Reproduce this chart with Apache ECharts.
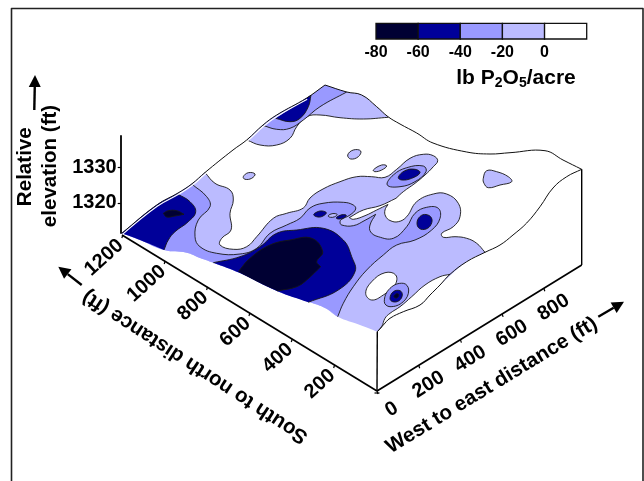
<!DOCTYPE html>
<html><head><meta charset="utf-8">
<style>html,body{margin:0;padding:0;background:#fff}#c{width:644px;height:481px}</style>
<script src="https://cdn.jsdelivr.net/npm/echarts@6/dist/echarts.min.js"></script>
</head><body><div id="c"></div>
<script>
// Colour classes, lb P2O5/acre
const classBreaks = [-80,-60,-40,-20,0,20];
const classColors = ['#000033','#000099','#9999ff','#bbbbff','#ffffff'];
const DARKEST=0, DARK=1, MID=2, LIGHT=3, WHITE=4;

// Block outline (picture-plane units); a third element 1 marks a sharp corner
const ridge = [[121.7,233.3,1],[156.7,205],[178,193],[191.7,184],[205,172.5],[233,150],[246.7,140],[263,125],[276.7,115],[306.7,98],[325,85,1],[346.7,92],[361.7,95],[376.7,106.7],[388,116.7],[400,124],[416.7,133],[433,143],[466.7,152],[490,154],[510,152.7],[545,150.7],[563,160],[581.7,169.3,1]];
const rightEdge = [[581.7,169.3,1],[566.7,176.7],[553,188],[540,206.7],[526.7,223],[513,235],[500,245],[485,252.3],[466.7,261.7],[450,274.3],[440,285],[430,295],[420,305],[403.3,311.7],[390,318.3],[383.3,325],[377.3,331.7,1]];

// Contour regions: contour = drawn line, edge = rest of the filled outline along the block edge
const lightTopContour = [[388.3,117.3,1],[363.3,119],[340,117.7],[320,115],[306.7,116.7],[296.7,126.7],[290,138.3],[276.7,145],[260,145],[247,140,1]];
const lightTopEdge = [[263,125],[276.7,115],[306.7,98],[325,85,1],[346.7,92],[361.7,95],[376.7,106.7]];
const midTopContour = [[346.7,92,1],[320,106.7],[303.3,120],[290,128.3],[276.7,129.3],[263.3,125.5,1]];
const midTopEdge = [[276.7,115],[306.7,98],[325,85,1]];
const darkTopContour = [[311,95,1],[308.3,106.7],[300,118.3],[290,121.7],[275.7,118.3,1]];
const darkTopEdge = [[286.7,111],[300,102.5]];

const lightMainContour = [[485,252.3,1],[476.7,243.3],[466.7,238.3],[455,236.7],[443.3,237.3],[441.7,233.3],[453.3,226.7],[460,216.7],[458.3,203.3],[446.7,194],[433.3,194],[416.7,201.7],[406.7,216.7],[398.3,221.7],[390,220.5],[385.5,216],[385,210],[388,204.5,1],[376.7,210],[365,215.7],[353.3,219.3],[349.3,217.6,1],[363.3,210],[380,205.7],[396,198.3,1],[403.3,191.7],[415,183.3],[425,175],[433.3,166.7],[437.7,160.7],[433.3,155.7],[423.3,154.3],[410,158.3],[396.7,169.3],[385,177.3],[371.7,176.7],[356.7,176.7],[340,181.7],[323,189],[310,198],[303.3,208],[286.7,213.3],[273.3,218.3],[256.7,236.7],[246.7,246.7],[233.3,249.3],[220,245],[221.7,238.3],[231,230],[230,213.3],[233.3,200],[230,190],[215,183.3],[205,172.5,1]];
const lightMainEdge = [[191.7,184],[178,193],[156.7,205],[121.7,233.3,1],[140,240],[164,250],[186.7,252.7],[200,258],[213.3,262.7],[240,273],[277,291],[310,302.3],[325,308],[337.7,316.7],[360,325],[377.3,331.7,1],[390,318.3],[403.3,311.7],[420,305],[430,295],[440,285],[466.7,261.7]];
const whitePatchContour = [[450,274.3,1],[440,276.7],[425,285],[411.7,296.7],[400,306.7],[390,313.3],[385,318.3],[381.7,326.7],[377.3,331.7,1]];
const whitePatchEdge = [[383.3,325],[390,318.3],[403.3,311.7],[420,305],[430,295],[440,285]];
const whiteIsland = [[365.7,293.3],[371.7,281.7],[385,272.7],[395.7,275],[395,285],[383.3,295],[371.7,300]];

const midMainContour = [[191.7,184,1],[206.7,196.7],[210,206.7],[198.3,220],[195,236.7],[200,246.7],[216.7,253.3],[240,254],[256.7,248.3],[270,233.3],[286.7,225],[300,218.3],[310,208],[323,203.3],[343.3,202.3],[353.3,205],[355.7,209],[350,215],[341.7,219.3],[340,222],[341.7,225],[353.3,225.7],[365,220.3],[375.7,214.3,1],[370,225],[370.7,232],[378.3,236.7],[393.3,238.3],[406.7,226.7],[415,213.3],[426.7,207.3],[438.3,208.3],[440,218.3],[431.7,230],[415,240],[396.7,245],[383.3,255],[366.7,270],[353.3,286.7],[343.3,303.3],[337.7,316.7,1]];
const midMainEdge = [[325,308],[310,302.3],[277,291],[240,273],[213.3,262.7],[200,258],[186.7,252.7],[164,250],[140,240],[121.7,233.3,1],[156.7,205],[178,193]];
const darkLeftContour = [[177.7,194,1],[190,201.7],[195.7,211.7],[188.3,221.7],[175,231.7],[168.3,240],[164,250,1]];
const darkLeftEdge = [[140,240],[121.7,233.3,1],[156.7,205]];
const darkestLeft = [[163.3,213.3,1],[168.3,210.7],[176.7,210.7],[184,214.3,1],[175,216],[166.7,217]];
const darkCentralContour = [[213.3,262.7,1],[240,256.7],[260,246.7],[276.7,233.3],[296.7,230],[323.3,228.3],[343.3,240],[351.7,256.7],[355,271.7],[338.3,290],[308.3,302.3,1]];
const darkCentralEdge = [[277,291],[240,273]];
const darkestCentralContour = [[238.3,271.7,1],[250,258.3],[270,245],[290,240],[311.7,238.3],[322.7,251.7],[316.7,261.7],[320.7,266.7,1],[306.7,280],[296.7,286.7],[277.3,291,1]];
const darkestCentralEdge = [[260,283]];

// Closed islands
const spotFrontMid = [[384.3,301.7],[390,288.3],[403.3,283.3],[408.7,290],[403.3,301.7],[390,306.7]];
const spotFrontDark = [[390,298.3],[393.3,291.7],[400,290.7],[402.3,295],[399,300.7],[392.7,301.7]];
const spotFrontCore = [[394,296.5],[396,294],[398.3,294],[398.3,296.5],[396,298]];
const spotLobeDark = [[417,223],[420,216.5],[426,214.5],[431.5,218],[431,224.5],[426,229],[419.5,228.5]];
const spotUpperMid = [[387.3,185],[393.3,175],[406.7,167.7],[423.3,166],[426,171.7],[415,181.7],[400,186.7]];
const spotUpperDark = [[398.3,177.3],[405,170.7],[415,169.3],[420,172.7],[411.7,178.3],[401.7,180]];
const isletA = [[243.3,176.7],[248.3,172.7],[255,174],[251.7,178.3],[245,179.3]];
const isletB = [[347.7,155],[353.3,150],[360.7,151],[358.3,156.7],[350.7,159]];
const isletC = [[373.3,170],[381.7,165],[386.7,166],[381.7,170],[375,171.7]];
const isletD = [[483.3,178.3],[486.7,170.7],[496.7,171.7],[508.3,176.7],[511.7,181.7],[500,185],[488.3,187.7],[484,183.3]];
const dotA = [[313.7,214.8],[317,212],[322,211],[326.3,212.8],[323,216],[318,217]];
const dotB = [[328.2,216],[331,214],[335,213.6],[337.2,214.6],[334.5,216.8],[330.5,217.3]];
const dotC = [[336.3,218],[339,215.8],[343.5,214.6],[346.3,215.4],[343.5,218],[339,219]];

// paint order: [colour class, contour, edge or null (null = closed island)]
const regions = [
  [LIGHT,lightTopContour,lightTopEdge],[MID,midTopContour,midTopEdge],[DARK,darkTopContour,darkTopEdge],
  [LIGHT,lightMainContour,lightMainEdge],[WHITE,whitePatchContour,whitePatchEdge],[WHITE,whiteIsland,null],
  [MID,midMainContour,midMainEdge],[DARK,darkLeftContour,darkLeftEdge],[DARKEST,darkestLeft,null],
  [DARK,darkCentralContour,darkCentralEdge],[DARKEST,darkestCentralContour,darkestCentralEdge],
  [MID,spotFrontMid,null],[DARK,spotFrontDark,null],[DARKEST,spotFrontCore,null],
  [DARK,spotLobeDark,null],[MID,spotUpperMid,null],[DARK,spotUpperDark,null],
  [LIGHT,isletA,null],[LIGHT,isletB,null],[LIGHT,isletC,null],[LIGHT,isletD,null],
  [DARK,dotA,null],[LIGHT,dotB,null],[DARK,dotC,null]
];

// Oblique axes
const eastTicks = [0,200,400,600,800];
const northTicks = [200,400,600,800,1000,1200];
const corner = [377,391];
const eastPerFoot = [0.2085,-0.1285];
const northPerFoot = [-0.2118,-0.1300];
const eastEnd = [581.7,265];
const northEnd = [122,235];
const boxLines = [[[377.3,331.7],[377,391]],[[581.7,169.3],[581.7,265]]];
const elevationTicks = [1320,1330];

const titles = ['West to east distance (ft)','South to north distance (ft)','Relative','elevation (ft)'];
const titleX = [491.7,195,25.5,50.5];
const titleY = [385.5,366.7,166.7,166];
const titleAngle = [31.4,147,90,90];
// arrows: shaft start, tip
const arrows = [[[34.3,110],[35,75]],[[598.3,316.7],[624,301.7]],[[81.7,285],[58.3,266.7]]];
const frame = [[11.5,481],[11.5,8.5],[643,8.5],[643,481]];

const FONT = '"Liberation Sans", Arial, sans-serif';
const rad = d => d*Math.PI/180;
const expand = pts => pts.flatMap(p => p[2] ? [p,p] : [p]);

function renderRegion(params, api){
  const r = regions[api.value(0)];
  const toPx = pts => expand(pts).map(p => api.coord([p[0],p[1]]));
  const fill = classColors[r[0]];
  const line = {stroke:'#161616',lineWidth:0.9,lineJoin:'round'};
  if(!r[2]) return {type:'polygon',shape:{points:toPx(r[1]),smooth:0.42},style:Object.assign({fill},line)};
  return {type:'group',children:[
    {type:'polygon',shape:{points:toPx(r[1].concat(r[2])),smooth:0.42},style:{fill}},
    {type:'polyline',shape:{points:toPx(r[1]),smooth:0.42},style:Object.assign({fill:null},line)}
  ]};
}
function renderBlock(params, api){
  const c = p => api.coord([p[0],p[1]]);
  const line = (pts,w,col,sm) => ({type:'polyline',shape:{points:expand(pts).map(c),smooth:sm||0},style:{fill:null,stroke:col||'#000',lineWidth:w,lineJoin:'round'}});
  const kids = [];
  const halo = ridge.slice(0,10).map(p => [p[0]+0.5,p[1]+1.3]);
  kids.push(line(halo,1.2,'#fff',0.42));
  kids.push(line(ridge,1,'#111',0.42));
  kids.push(line(rightEdge,1,'#111',0.42));
  boxLines.forEach(b => kids.push(line(b,1.4)));
  kids.push(line([corner,eastEnd],1.7));
  kids.push(line([corner,northEnd],1.7));
  eastTicks.forEach(t => {
    const p=[corner[0]+t*eastPerFoot[0],corner[1]+t*eastPerFoot[1]];
    kids.push(line([p,[p[0]+1,p[1]+3]],1.2));
    const a=c([p[0]+(t?24:19.5),p[1]+(t?10.5:15.5)]);
    kids.push({type:'text',x:a[0],y:a[1],rotation:rad(32),style:{text:String(t),fontSize:20,fontWeight:'bold',fontFamily:FONT,fill:'#000',align:'right',verticalAlign:'middle'}});
  });
  kids.push(line([[corner[0]-2.5,corner[1]+2],[corner[0]+2.5,corner[1]+2]],1.2));
  northTicks.forEach(t => {
    const p=[corner[0]+t*northPerFoot[0],corner[1]+t*northPerFoot[1]];
    kids.push(line([p,[p[0]-1,p[1]+3]],1.2));
    const a=c([p[0]-2.2,p[1]+7.7]);
    kids.push({type:'text',x:a[0],y:a[1],rotation:rad(42),style:{text:String(t),fontSize:20,fontWeight:'bold',fontFamily:FONT,fill:'#000',align:'right',verticalAlign:'middle'}});
  });
  titles.forEach((s,i) => {
    const a=c([titleX[i],titleY[i]]);
    kids.push({type:'text',x:a[0],y:a[1],rotation:rad(titleAngle[i]),style:{text:s,fontSize:20.6,fontWeight:'bold',fontFamily:FONT,fill:'#000',align:'center',verticalAlign:'middle'}});
  });
  arrows.forEach(ar => {
    const s=ar[0],t=ar[1],dx=t[0]-s[0],dy=t[1]-s[1],L=Math.hypot(dx,dy),ux=dx/L,uy=dy/L;
    const b=[t[0]-ux*12,t[1]-uy*12];
    kids.push(line([s,b],2.4));
    kids.push({type:'polygon',shape:{points:[t,[b[0]-uy*6,b[1]+ux*6],[b[0]+uy*6,b[1]-ux*6]].map(c)},style:{fill:'#000'}});
  });
  kids.push(line(frame,1.6,'#222'));
  const u=c([516,78.5]);
  kids.push({type:'text',x:u[0],y:u[1],style:{text:'{a|lb P}{s|2}{a|O}{s|5}{a|/acre}',align:'center',verticalAlign:'middle',
    rich:{a:{fontSize:21,fontWeight:'bold',fontFamily:FONT,fill:'#000',lineHeight:24},
          s:{fontSize:14,fontWeight:'bold',fontFamily:FONT,fill:'#000',lineHeight:24,verticalAlign:'bottom',padding:[6,0,0,0]}}}});
  return {type:'group',children:kids};
}
function renderLegendCell(params, api){
  const a=api.coord([api.value(0),0]), b=api.coord([api.value(1),1]);
  return {type:'rect',shape:{x:a[0],y:b[1],width:b[0]-a[0],height:a[1]-b[1]},style:{fill:classColors[params.dataIndex],stroke:'#111',lineWidth:1.3}};
}

const hidden = {show:false};
const chart = echarts.init(document.getElementById('c'),null,{renderer:'canvas'});
chart.setOption({
  animation:false,
  backgroundColor:'#fff',
  grid:[
    {left:0,top:0,width:644,height:481},
    {left:376,top:23.3,width:210.7,height:15.7},
    {left:120.7,top:136,width:10,height:97}
  ],
  xAxis:[
    {gridIndex:0,type:'value',min:0,max:644,show:false},
    {gridIndex:1,type:'value',min:-80,max:20,position:'bottom',axisLine:hidden,axisTick:hidden,splitLine:hidden,
      axisLabel:{customValues:[-80,-60,-40,-20,0],fontSize:16,fontWeight:'bold',fontFamily:FONT,color:'#000',margin:6}},
    {gridIndex:2,type:'value',min:0,max:1,show:false}
  ],
  yAxis:[
    {gridIndex:0,type:'value',min:0,max:481,inverse:true,show:false},
    {gridIndex:1,type:'value',min:0,max:1,show:false},
    {gridIndex:2,type:'value',min:1311.5,max:1338.9,position:'left',splitLine:hidden,
      axisLine:{show:true,lineStyle:{color:'#000',width:1.8}},
      axisTick:{show:true,length:3,lineStyle:{color:'#000',width:1.2},customValues:elevationTicks},
      axisLabel:{customValues:elevationTicks,formatter:v=>String(v),fontSize:20,fontWeight:'bold',fontFamily:FONT,color:'#000',margin:4}}
  ],
  series:[
    {type:'custom',xAxisIndex:0,yAxisIndex:0,z:2,clip:false,silent:true,renderItem:renderRegion,data:regions.map((r,i)=>[i]),encode:{x:0}},
    {type:'custom',xAxisIndex:0,yAxisIndex:0,z:3,clip:false,silent:true,renderItem:renderBlock,data:[[0]],encode:{x:0}},
    {type:'custom',xAxisIndex:1,yAxisIndex:1,z:4,clip:false,silent:true,renderItem:renderLegendCell,
      data:classColors.map((c,i)=>[classBreaks[i],classBreaks[i+1]]),encode:{x:[0,1]}}
  ]
});
</script></body></html>
